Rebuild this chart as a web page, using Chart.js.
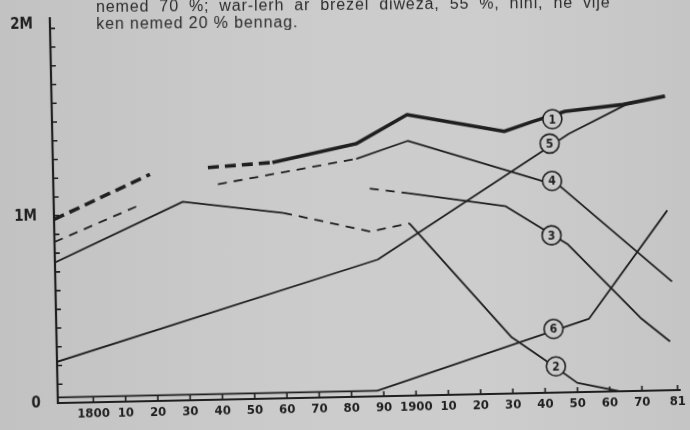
<!DOCTYPE html>
<html>
<head>
<meta charset="utf-8">
<script src="https://cdn.jsdelivr.net/npm/chart.js@4.4.1/dist/chart.umd.min.js"></script>
<style>
  html, body { margin: 0; padding: 0; }
  body {
    width: 690px; height: 430px; overflow: hidden; position: relative;
    background: linear-gradient(90deg, #c2c2c2 0%, #cbcbcb 40%, #cdcdcd 70%, #c5c5c5 100%);
  }
  /* the reference is a slightly skewed photo of a printed page */
  canvas { position: absolute; left: 0; top: 0; transform: rotate(-1.2deg); }
  #page-text {
    position: absolute; left: 96px; top: -1px; z-index: 2;
    color: #2b2b2b; font: 16px/16.6px 'Liberation Sans', Arial, sans-serif;
    letter-spacing: 0.9px; white-space: nowrap;
    transform: rotate(-0.5deg); transform-origin: 0 0;
  }
  #page-text .wide { word-spacing: 4.6px; }
</style>
</head>
<body>
<canvas id="chart" width="690" height="430"></canvas>
<div id="page-text">
  <div class="wide">nemed 70 %; war-lerh ar brezel diweza, 55 %, hini, ne vije</div>
  <div>ken nemed 20 % bennag.</div>
</div>
<script>
// years on the x axis, values in millions
const xTickYears = [1800, 1810, 1820, 1830, 1840, 1850, 1860, 1870, 1880, 1890,
  1900, 1910, 1920, 1930, 1940, 1950, 1960, 1970, 1981];
const xTickLabels = ['1800', '10', '20', '30', '40', '50', '60', '70', '80', '90',
  '1900', '10', '20', '30', '40', '50', '60', '70', '81'];
const yLabelValues = [0, 1, 2];
const yTickLabels = ['0', '1M', '2M'];

const years1 = [1789, 1819, 1828, 1837, 1857, 1883, 1899, 1929, 1938, 1948, 1966, 1979];
const values1 = [0.98, 1.21, null, 1.24, 1.26, 1.35, 1.50, 1.40, 1.45, 1.50, 1.53, 1.57];
const years2 = [1789, 1829, 1860, 1887, 1899, 1930, 1943, 1950, 1963];
const values2 = [0.75, 1.06, 0.99, 0.88, 0.92, 0.30, 0.14, 0.05, 0.00];
const years3 = [1887, 1899, 1929, 1948, 1970, 1979];
const values3 = [1.11, 1.08, 1.00, 0.79, 0.39, 0.26];
const years4 = [1789, 1816, 1828, 1840, 1883, 1899, 1946, 1980];
const values4 = [0.86, 1.05, null, 1.15, 1.27, 1.36, 1.10, 0.58];
const years5 = [1789, 1889, 1949, 1967, 1979];
const values5 = [0.22, 0.73, 1.38, 1.53, 1.57];
const years6 = [1789, 1888, 1954, 1979];
const values6 = [0.03, 0.03, 0.39, 0.96];

// numbered circles sitting on the lines
const markerLabels = ['1', '5', '4', '3', '6', '2'];
const markerYears = [1944, 1943, 1943.5, 1943, 1943, 1943.5];
const markerValues = [1.46, 1.33, 1.13, 0.84, 0.34, 0.14];

const ink = '#1f1f1f';
const paper = '#cacaca';
const handFont = "'DejaVu Sans Condensed', 'DejaVu Sans', sans-serif";

const toPoints = (years, values) => years.map((yr, i) => ({ x: yr, y: values[i] }));

const dashed = (from, to, pattern) => ctx =>
  (ctx.p0.parsed.x >= from && ctx.p1.parsed.x <= to) ? pattern : undefined;

const thickDash = [11, 6];
const thinDash = [9, 7];

function lineSet(label, years, values, width, dashFn) {
  return {
    label: label,
    data: toPoints(years, values),
    borderColor: ink,
    borderWidth: width,
    borderCapStyle: 'butt',
    borderJoinStyle: 'round',
    pointRadius: 0,
    fill: false,
    tension: 0,
    spanGaps: false,
    order: 2,
    segment: { borderDash: dashFn }
  };
}

const handAxes = {
  id: 'handAxes',
  beforeDatasetsDraw(chart) {
    const { ctx, chartArea: a, scales: { x, y } } = chart;
    ctx.save();
    ctx.strokeStyle = ink;
    ctx.lineWidth = 2.2;
    ctx.beginPath();
    ctx.moveTo(a.left, a.top);
    ctx.lineTo(a.left, a.bottom);
    ctx.lineTo(a.right, a.bottom);
    ctx.stroke();

    ctx.lineWidth = 1.6;
    ctx.beginPath();
    for (let i = 1; i <= 20; i++) {
      const py = y.getPixelForValue(i / 10);
      ctx.moveTo(a.left, py);
      ctx.lineTo(a.left + 5, py);
    }
    xTickYears.forEach(v => {
      const px = x.getPixelForValue(v);
      ctx.moveTo(px, a.bottom);
      ctx.lineTo(px, a.bottom - 5);
    });
    ctx.stroke();

    ctx.fillStyle = ink;
    ctx.font = 'bold 13px ' + handFont;
    ctx.textAlign = 'center';
    ctx.textBaseline = 'top';
    xTickYears.forEach((v, i) => {
      ctx.fillText(xTickLabels[i], x.getPixelForValue(v), a.bottom + 5);
    });

    ctx.font = 'bold 15px ' + handFont;
    ctx.textAlign = 'right';
    ctx.textBaseline = 'middle';
    yLabelValues.forEach((v, i) => {
      ctx.fillText(yTickLabels[i], a.left - 17, y.getPixelForValue(v) - (v === 2 ? 4 : 0));
    });
    ctx.restore();
  },
  afterDatasetsDraw(chart) {
    const meta = chart.getDatasetMeta(chart.data.datasets.length - 1);
    const { ctx } = chart;
    ctx.save();
    ctx.fillStyle = ink;
    ctx.font = 'bold 12px ' + handFont;
    ctx.textAlign = 'center';
    ctx.textBaseline = 'middle';
    meta.data.forEach((pt, i) => {
      ctx.fillText(markerLabels[i], pt.x, pt.y + 1);
    });
    ctx.restore();
  }
};

new Chart(document.getElementById('chart'), {
  type: 'line',
  data: {
    datasets: [
      lineSet('1', years1, values1, 3.6, dashed(1780, 1857, thickDash)),
      lineSet('2', years2, values2, 1.8, dashed(1860, 1899, thinDash)),
      lineSet('3', years3, values3, 1.8, dashed(1880, 1899, thinDash)),
      lineSet('4', years4, values4, 1.8, dashed(1780, 1883, thinDash)),
      lineSet('5', years5, values5, 1.8, undefined),
      lineSet('6', years6, values6, 1.8, undefined),
      {
        label: 'markers',
        data: toPoints(markerYears, markerValues),
        showLine: false,
        pointRadius: 9.5,
        pointHoverRadius: 9.5,
        pointBackgroundColor: paper,
        pointBorderColor: ink,
        pointBorderWidth: 1.6,
        order: 0
      }
    ]
  },
  options: {
    responsive: false,
    animation: false,
    events: [],
    layout: { padding: { top: 8, right: 13, left: 0, bottom: 0 } },
    scales: {
      x: {
        type: 'linear',
        min: 1789,
        max: 1982,
        afterFit: s => { s.height = 33; },
        grid: { display: false },
        border: { display: false },
        ticks: { display: false }
      },
      y: {
        min: 0,
        max: 2.06,
        afterFit: s => { s.width = 54; },
        grid: { display: false },
        border: { display: false },
        ticks: { display: false }
      }
    },
    plugins: {
      legend: { display: false },
      tooltip: { enabled: false }
    }
  },
  plugins: [handAxes]
});
</script>
</body>
</html>
